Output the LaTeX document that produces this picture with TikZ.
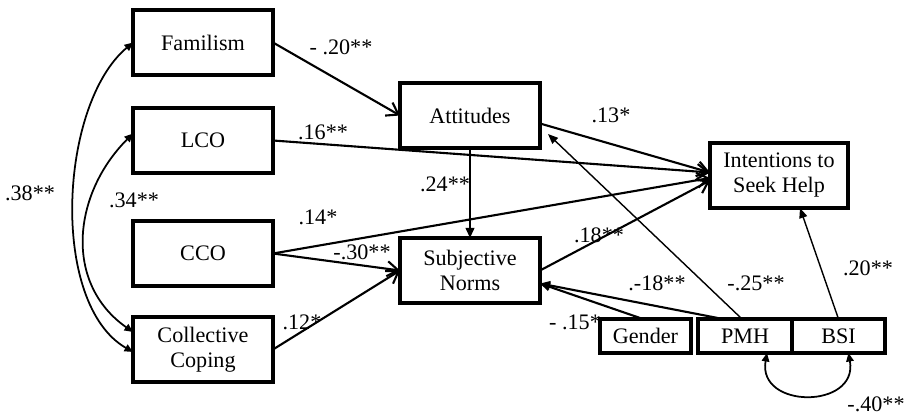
\documentclass[tikz,border=0pt]{standalone}
\usepackage{fontspec}
\setmainfont{Liberation Serif}
\usetikzlibrary{arrows.meta,positioning}

\begin{document}
\begin{tikzpicture}[
    node distance=0.66cm,
    every node/.style={font=\fontsize{12.6}{14.2}\selectfont},
    construct/.style={rectangle, draw, line width=1.9pt, minimum width=2.8cm, minimum height=1.3cm, align=center, outer sep=0pt},
    small/.style={rectangle, draw, line width=1.9pt, minimum height=0.68cm, inner sep=1pt, outer sep=0pt},
    effect/.style={line width=1.2pt, -{Straight Barb[length=0.22cm, width=0.3cm]}},
    solid effect/.style={line width=1.2pt, -{Triangle[length=0.2cm, width=0.17cm]}},
    weak/.style={line width=0.8pt, -{Triangle[length=0.2cm, width=0.16cm]}},
    covar/.style={line width=1pt, {Triangle[length=0.17cm, width=0.15cm]}-{Triangle[length=0.17cm, width=0.15cm]}},
    coef/.style={inner sep=0pt}
]
    \useasboundingbox (-4.06,0.85) rectangle (14.16,-7.47);

    \node[construct] (fam) {Familism};
    \node[construct, below=0.66cm of fam] (lco) {LCO};
    \node[construct, below=0.96cm of lco] (cco) {CCO};
    \node[construct, below=0.62cm of cco] (cope) {Collective\\Coping};

    \node[construct, below right=0.16cm and 2.54cm of fam] (att) {Attitudes};
    \node[construct, below=1.8cm of att] (sn) {Subjective\\Norms};
    \node[construct, minimum width=2.76cm, below right=-0.1cm and 3.4cm of att] (int) {Intentions to\\Seek Help};

    \node[small, minimum width=1.82cm, below right=0.32cm and 1.2cm of sn] (gen) {Gender};
    \node[small, minimum width=1.88cm, right=0.14cm of gen] (pmh) {PMH};
    \node[small, minimum width=1.86cm, right=0pt of pmh] (bsi) {BSI};

    % paths
    \draw[effect] (fam.east) -- (att.west);
    \draw[effect] (lco.east) -- ([yshift=0.06cm]int.west);
    \draw[effect] ([yshift=-0.16cm]att.east) -- ([yshift=0.06cm]int.west);
    \draw[effect] (cco.east) -- ([yshift=-0.05cm]int.west);
    \draw[effect] (cco.east) -- (sn.west);
    \draw[effect] (cope.east) -- (sn.west);
    \draw[solid effect] (att) -- (sn);
    \draw[effect] (sn.east) -- ([yshift=-0.1cm]int.west);
    \draw[solid effect] ([xshift=-0.05cm]gen.north) -- ([yshift=-0.26cm]sn.east);
    \draw[solid effect] ([xshift=-0.44cm]pmh.north) -- ([yshift=-0.26cm]sn.east);
    \draw[weak] ([xshift=-0.06cm]pmh.north) -- ([shift={(0.16cm,0.28cm)}]att.south east);
    \draw[weak] (bsi.north) -- ([xshift=0.42cm]int.south);

    % correlations
    \draw[covar] ([yshift=0.35cm]cope.west) to[out=145, in=225, looseness=1.1] ([yshift=0.14cm]lco.west);
    \draw[covar] ([yshift=-0.05cm]cope.west) to[out=150, in=220, looseness=0.8] (fam.west);
    \draw[covar] ([xshift=0.44cm]pmh.south) to[out=-100, in=-80, looseness=1.8] ([xshift=0.2cm]bsi.south);

    % coefficients
    \node[coef] (c1) at (2.76,-0.09) {- .20**};
    \node[coef] (c2) at (2.40,-1.79) {.16**};
    \node[coef] (c3) at (-3.46,-3.01) {.38**};
    \node[coef] (c4) at (-1.38,-3.15) {.34**};
    \node[coef] (c5) at (4.84,-2.83) {.24**};
    \node[coef] (c6) at (8.16,-1.45) {.13*};
    \node[coef] (c7) at (2.30,-3.49) {.14*};
    \node[coef] (c8) at (3.18,-4.19) {-.30**};
    \node[coef] (c9) at (7.92,-3.85) {.18**};
    \node[coef] (c10) at (1.98,-5.59) {.12*};
    \node[coef] (c11) at (9.08,-4.81) {.-18**};
    \node[coef] (c12) at (11.06,-4.81) {-.25**};
    \node[coef] (c13) at (13.30,-4.51) {.20**};
    \node[coef] (c14) at (7.44,-5.59) {- .15*};
    \node[coef] (c15) at (13.46,-7.23) {-.40**};
\end{tikzpicture}
\end{document}
